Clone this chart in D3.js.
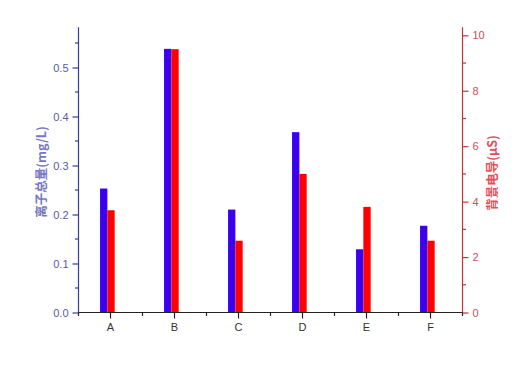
<!DOCTYPE html>
<html><head><meta charset="utf-8">
<script src="https://cdn.jsdelivr.net/npm/d3@7"></script>
<style>body{margin:0;background:#fff;}svg{display:block;font-family:Arial,"Liberation Sans",sans-serif;}</style>
</head><body>
<svg id="c" width="518" height="382"></svg>
<script>
const categories = ["A","B","C","D","E","F"];
const ionTotal = [0.253, 0.538, 0.210, 0.368, 0.129, 0.177];      // mg/L, left axis
const conductivity = [3.69, 9.5, 2.59, 5.0, 3.81, 2.59];           // μS, right axis
const leftTicks = [0.0,0.1,0.2,0.3,0.4,0.5];
const rightTicks = [0,2,4,6,8,10];
const leftTitle = "离子总量(mg/L)";
const rightTitle = "背景电导(μS)";

const svg = d3.select("#c");
const L = 78.5, R = 462.5, T = 27.3, B = 312.5;

const x = d3.scaleBand().domain(categories).range([L, R]);
const yL = d3.scaleLinear().domain([0, 0.582]).range([B, T]);
const yR = d3.scaleLinear().domain([0, 10.29]).range([B, T]);

const bw = 7.3;
// bars
svg.append("g").selectAll("rect").data(categories).join("rect")
  .attr("x", d => x(d) + x.bandwidth()/2 + 0.5 - bw*1.5)
  .attr("width", bw)
  .attr("y", (d,i) => yL(ionTotal[i]))
  .attr("height", (d,i) => B - yL(ionTotal[i]))
  .attr("fill", "#3a00f2");
svg.append("g").selectAll("rect").data(categories).join("rect")
  .attr("x", d => x(d) + x.bandwidth()/2 + 0.5 - bw*0.5)
  .attr("width", bw)
  .attr("y", (d,i) => yR(conductivity[i]))
  .attr("height", (d,i) => B - yR(conductivity[i]))
  .attr("fill", "#ff0000");

// left axis
const gl = svg.append("g").attr("transform", `translate(${L},0)`);
gl.call(d3.axisLeft(yL).tickValues(leftTicks).tickFormat(d3.format(".1f")).tickSize(6).tickPadding(4));
gl.selectAll("path,line").attr("stroke", "#3a3a9a").attr("stroke-width", 1.2);
gl.select(".domain").attr("d", `M0,${B}V${T}`);
gl.selectAll("text").attr("fill", "#5a5a9e").attr("font-size", 11);
const minorL = d3.range(0.05, 0.58, 0.1);
gl.selectAll(".mn").data(minorL).join("line").attr("class","mn")
  .attr("x1", -3.5).attr("x2", 0).attr("y1", d => yL(d)).attr("y2", d => yL(d))
  .attr("stroke", "#3a3a9a").attr("stroke-width", 1.2);

// right axis
const gr = svg.append("g").attr("transform", `translate(${R},0)`);
gr.call(d3.axisRight(yR).tickValues(rightTicks).tickSize(6).tickPadding(4));
gr.selectAll("path,line").attr("stroke", "#c8323a").attr("stroke-width", 1.2);
gr.select(".domain").attr("d", `M0,${B}V${T}`);
gr.selectAll("text").attr("fill", "#c85058").attr("font-size", 11);
const minorR = d3.range(1, 10.3, 2);
gr.selectAll(".mn").data(minorR).join("line").attr("class","mn")
  .attr("x1", 0).attr("x2", 3.5).attr("y1", d => yR(d)).attr("y2", d => yR(d))
  .attr("stroke", "#c8323a").attr("stroke-width", 1.2);

// bottom axis
const gb = svg.append("g").attr("transform", `translate(0,${B})`);
gb.call(d3.axisBottom(x).tickSize(6).tickPadding(5));
gb.selectAll("path,line").attr("stroke", "#222").attr("stroke-width", 1.2);
gb.select(".domain").attr("d", `M${L},0H${R}`);
gb.selectAll("text").attr("fill", "#333").attr("font-size", 11);
const bounds = categories.slice(0).map(d => x(d)).concat([R]);
gb.selectAll(".mn").data(bounds).join("line").attr("class","mn")
  .attr("x1", d => d).attr("x2", d => d).attr("y1", 0).attr("y2", 3.5)
  .attr("stroke", "#222").attr("stroke-width", 1.2);

// titles
svg.append("text").attr("transform", "translate(46,172) rotate(-90)")
  .attr("text-anchor","middle").attr("font-size", 12.5).attr("font-weight","bold")
  .attr("fill", "#7676c4")
  .style("font-family", "'Noto Sans CJK SC', Arial, sans-serif").text(leftTitle);
svg.append("text").attr("transform", "translate(497,173) rotate(-90)")
  .attr("text-anchor","middle").attr("font-size", 12.5).attr("font-weight","bold")
  .attr("fill", "#e05058")
  .style("font-family", "'Noto Sans CJK SC', Arial, sans-serif").text(rightTitle);
</script>
</body></html>
